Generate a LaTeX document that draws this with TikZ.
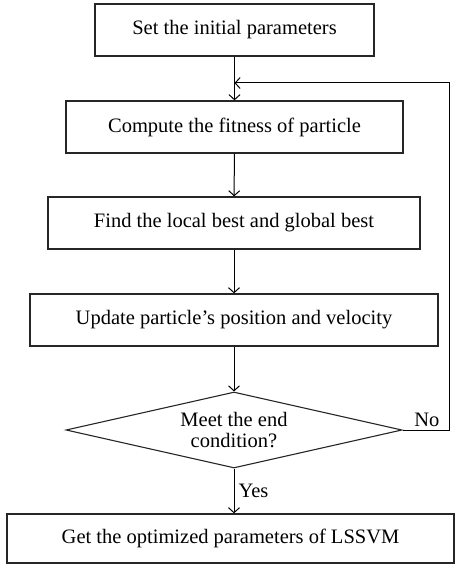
\documentclass[tikz,border=0pt]{standalone}
\usepackage{fontspec}
\setmainfont{Liberation Serif}
\usetikzlibrary{shapes.geometric,arrows.meta}
\begin{document}
\begin{tikzpicture}[x=1pt,y=-1pt,
  every node/.style={font=\fontsize{20.5}{21}\selectfont},
  stepbox/.style={draw=black!85,line width=1.3pt,rectangle,minimum height=52pt,inner sep=0pt},
  decision/.style={draw=black!85,line width=1.1pt,diamond,aspect=4.42,minimum width=336pt,minimum height=76pt,inner sep=0pt,align=center},
  arr/.style={line width=1pt,-{Straight Barb[length=5pt,width=11pt,line width=1pt]}},
  conn/.style={line width=1pt}]
\useasboundingbox (0,0) rectangle (455,567);
\node[stepbox,minimum width=279pt] (b1) at (234.5,30) {Set the initial parameters};
\node[stepbox,minimum width=337pt] (b2) at (234.5,127) {Compute the fitness of particle};
\node[stepbox,minimum width=372pt] (b3) at (234,223) {Find the local best and global best};
\node[stepbox,minimum width=408pt] (b4) at (234,320) {Update particle's position and velocity};
\node[decision] (d) at (234,430) {Meet the end\\condition?};
\node[stepbox,minimum width=447pt,minimum height=49pt] (f) at (230.5,538.5) {Get the optimized parameters of LSSVM};
\coordinate (c1) at (449,430);
\coordinate (c2) at (449,83);
\coordinate (c3) at (234.5,83);
\draw[arr] (b1) -- (b2);
\draw[arr] (b2) -- (b3);
\draw[arr] (b3) -- (b4);
\draw[arr] (b4) -- (d);
\draw[arr] (d.south) -- node[right,inner sep=4pt] {Yes} (d.south |- f.north);
\draw[arr] (d.east) -- node[above,pos=0.5,inner sep=3pt,xshift=1pt] {No} (c1) -- (c2) -- (c3);
\end{tikzpicture}
\end{document}
